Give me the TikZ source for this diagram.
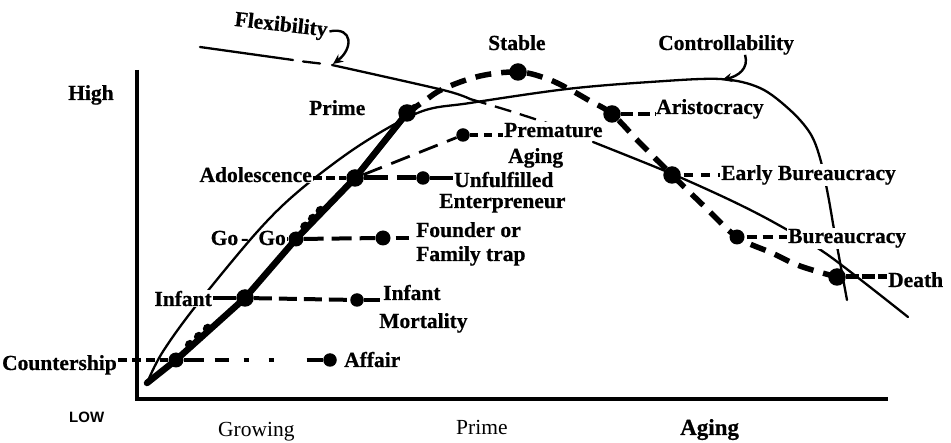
\documentclass[tikz,border=0pt]{standalone}
\usepackage{fontspec}
\setmainfont{Liberation Serif}[BoldFeatures={FakeBold=0.6}]
\setsansfont{Liberation Sans}
\usetikzlibrary{arrows.meta,calc}
\begin{document}
\begin{tikzpicture}[x=1pt,y=-1pt,
  lab/.style={font=\bfseries\fontsize{21.5}{23}\selectfont, inner sep=1pt},
  masklab/.style={lab, fill=white},
  axlab/.style={font=\fontsize{21.5}{23}\selectfont, inner sep=1pt},
  bigdot/.style={circle, fill=black, minimum size=17.5pt, inner sep=0pt},
  middot/.style={circle, fill=black, minimum size=15pt, inner sep=0pt},
  smdot/.style={circle, fill=black, minimum size=13.5pt, inner sep=0pt},
  knob/.style={circle, fill=black, minimum size=10pt, inner sep=0pt},
  thinln/.style={line width=2.3pt, line cap=round},
  thickln/.style={line width=6.5pt, line join=round, line cap=round},
  thickdash/.style={line width=5.5pt, dash pattern=on 16pt off 10pt},
  conn/.style={line width=4pt},
  ptr/.style={line width=2.4pt, -{Stealth[length=10pt,width=9pt]}},
]
\useasboundingbox (0,0) rectangle (951,443);

% positions
\coordinate (cO) at (147,383);
\coordinate (cC) at (176,360);
\coordinate (cI) at (245,298);
\coordinate (cG) at (296,239);
\coordinate (cA) at (355,178);
\coordinate (cP) at (407,113);
\coordinate (cS) at (518,72);
\coordinate (cAr) at (612,114);
\coordinate (cEB) at (672,175);
\coordinate (cB) at (737,237);
\coordinate (cD) at (837,277);
\coordinate (flexpt) at (333,64);
\coordinate (ctrlpt) at (722,80);

% axes
\coordinate (ytop) at (137,70);
\coordinate (corner) at (137,399);
\coordinate (xend) at (888,399);
\draw[line width=3.2pt] (ytop) -- (corner) -- (xend);

% flexibility curve
\draw[thinln] (200,47) -- (293,60);
\draw[thinln] (303,61.5) -- (320,63.5);
\draw[thinln] plot[smooth] coordinates {(332,65) (443,90) (470,99)};
\draw[thinln, line cap=butt, dash pattern=on 17pt off 9pt] plot[smooth] coordinates {(470,99) (510,111) (550,124)};
\draw[thinln] plot[smooth] coordinates {(593,142) (670,173) (730,200) (775,223) (828,255) (908,317)};

% controllability curve
\draw[thinln] plot[smooth, tension=0.55] coordinates {(cO) (162,353) (195,307) (257,232) (300,190) (360,145) (420,112) (470,103) (567,89) (650,82) (720,79) (760,88) (790,110) (810,133) (820,158) (828,195) (835,235) (847,300)};

% thick growth curve with knobs
\draw[thickln] (cO) -- (cC) -- (cI) -- (cG) -- (cA) -- (cP) -- (415,107);
\foreach \p in {(189.9,344.9),(198.9,336.8),(207.8,328.7),(305.2,226.6),(312.9,218.7),(320.6,210.8)}{
  \node[knob] at \p {};
}

% thick dashed aging curve
\draw[thickdash] plot[smooth, tension=0.6] coordinates {(cP) (423,102) (443,89) (480,76) (cS) (545,78) (567,88) (590,101) (cAr) (640,143) (cEB) (705,207) (cB) (772,253) (800,266) (cD)};

% dots
\node[middot] (count) at (cC) {};
\node[bigdot] (infant) at (cI) {};
\node[middot] (gogo) at (cG) {};
\node[bigdot] (adol) at (cA) {};
\node[bigdot] (prime) at (cP) {};
\node[bigdot] (stable) at (cS) {};
\node[bigdot] (aristo) at (cAr) {};
\node[bigdot] (earlyb) at (cEB) {};
\node[middot] (bureau) at (cB) {};
\node[bigdot] (death) at (cD) {};
\node[smdot] (affair) at (330,360) {};
\node[smdot] (mort) at (357,300) {};
\node[middot] (founder) at (383,238) {};
\node[smdot] (unful) at (423,178) {};
\node[smdot] (prem) at (463,135) {};

% labels
\node[lab, anchor=base west] (tHigh) at (67,100) {High};
\node[lab, anchor=base west] (tPrimeL) at (308,115) {Prime};
\node[lab, anchor=base west] (tStable) at (487,50) {Stable};
\node[lab, anchor=base west] (tCtrl) at (657,50) {Controllability};
\node[lab, rotate=-6.5] (tFlex) at (281,26) {Flexibility};
\node[masklab, anchor=base east] (tAdol) at (313,182) {Adolescence};
\node[lab, anchor=base east] (tGoGo) at (287,245) {Go\hspace{3pt}-\hspace{10pt}Go};
\node[masklab, anchor=base east] (tInfant) at (213,306) {Infant};
\node[lab, anchor=base east] (tCount) at (118,370) {Countership};
\node[lab, anchor=base west] (tAffair) at (343,367) {Affair};
\node[lab, anchor=base west] (tIM1) at (382,300) {Infant};
\node[lab, anchor=base west] (tIM2) at (378,328) {Mortality};
\node[lab, anchor=base west] (tF1) at (415,237) {Founder or};
\node[lab, anchor=base west] (tF2) at (415,261) {Family trap};
\node[lab, anchor=base west] (tU1) at (453,187) {Unfulfilled};
\node[lab, anchor=base west] (tU2) at (438,208) {Enterpreneur};
\node[masklab, anchor=base west] (tP1) at (503,137) {Premature};
\node[lab, anchor=base west] (tP2) at (507,163) {Aging};
\node[lab, anchor=base west] (tAristo) at (655,114) {Aristocracy};
\node[masklab, anchor=base west] (tEB) at (720,180) {Early Bureaucracy};
\node[masklab, anchor=base west] (tB) at (787,243) {Bureaucracy};
\node[lab, anchor=base west] (tDeath) at (887,287) {Death};
\node[font=\sffamily\bfseries\fontsize{15}{17}\selectfont, inner sep=1pt, anchor=base west] (tLow) at (68,423) {LOW};
\node[axlab, anchor=base west] (tGrowing) at (217,437) {Growing};
\node[axlab, anchor=base west] (tPrimeX) at (455,435) {Prime};
\node[font=\bfseries\fontsize{23}{25}\selectfont, inner sep=1pt, anchor=base west] (tAging) at (679,435) {Aging};

% pointers
\draw[ptr] ([xshift=1pt]tFlex.east) .. controls +(24,-5) and +(20,-15) .. (flexpt);
\draw[ptr] ([xshift=19pt,yshift=1pt]tCtrl.south) .. controls +(4,14) and +(16,-4) .. (ctrlpt);

% connectors
\draw[conn, dash pattern=on 9pt off 5pt] (count -| tCount.east) -- (count);
\draw[conn, dash pattern=on 20pt off 11pt on 14pt off 15pt on 5pt off 20pt on 5pt off 33pt on 60pt] (count) -- (affair);
\draw[conn] (infant -| tInfant.east) -- (infant);
\draw[conn, dash pattern=on 18pt off 7pt] (infant) -- (mort);
\draw[conn, shorten >=2pt] (mort) -- (mort -| tIM1.west);
\draw[conn] (gogo -| tGoGo.east) -- (gogo);
\draw[conn, dash pattern=on 20pt off 8pt] (gogo) -- (founder);
\draw[conn, shorten <=5pt, shorten >=6pt] (founder) -- (founder -| tF1.west);
\draw[conn, dash pattern=on 9pt off 4pt] (adol -| tAdol.east) -- (adol);
\draw[line width=5pt, dash pattern=on 24pt off 9pt] (adol) -- (unful);
\draw[conn] (unful) -- (unful -| tU1.west);
\draw[line width=2.8pt, dash pattern=on 20pt off 10pt] (adol) -- (prem);
\draw[line width=3.5pt, dash pattern=on 8pt off 6pt] (prem) -- (prem -| tP1.west);
\draw[conn, dash pattern=on 12pt off 5pt] (aristo) -- (aristo -| tAristo.west);
\draw[conn, shorten <=3pt, dash pattern=on 9pt off 8pt] (earlyb) -- (earlyb -| tEB.west);
\draw[conn, shorten <=2pt, dash pattern=on 10pt off 6pt] (bureau) -- (bureau -| tB.west);
\draw[line width=5pt, dash pattern=on 13pt off 3pt] (death) -- (death -| tDeath.west);
\end{tikzpicture}
\end{document}
